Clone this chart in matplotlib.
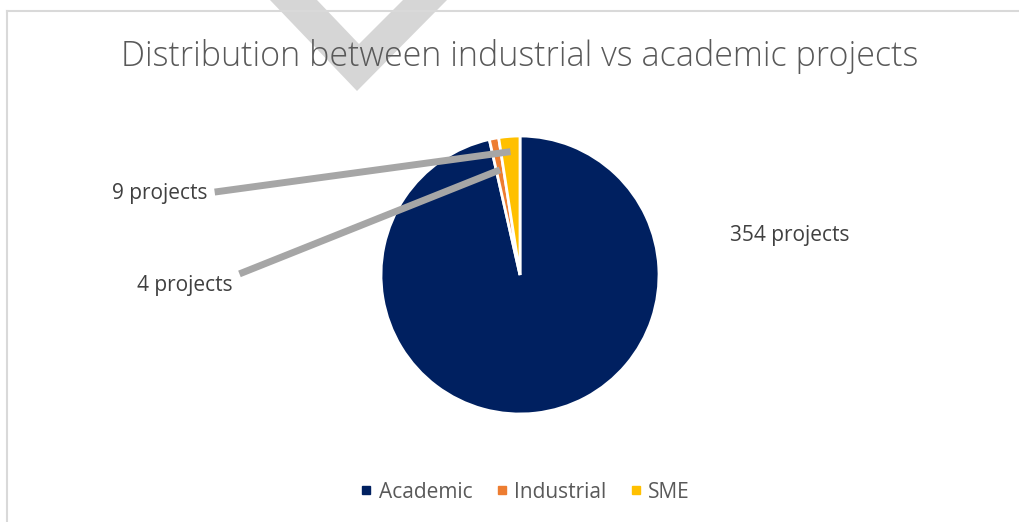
import matplotlib.pyplot as plt
from matplotlib.patches import Polygon
from matplotlib.lines import Line2D
import numpy as np

categories = ["Academic", "Industrial", "SME"]
projects = [354, 4, 9]
colors = ["#002060", "#ED7D31", "#FFC000"]
label_text = [f"{n} projects" for n in projects]

W, H = 1019, 522
plt.rcParams["font.family"] = ["Open Sans", "DejaVu Sans"]
fig = plt.figure(figsize=(W / 100, H / 100), dpi=100)

# chart frame (only top and left edges visible in the crop)
fig.add_artist(Line2D([7 / W, 7 / W], [0, 1 - 11 / H], transform=fig.transFigure,
                      color="#d9d9d9", lw=1.5))
fig.add_artist(Line2D([7 / W, 1], [1 - 11 / H, 1 - 11 / H], transform=fig.transFigure,
                      color="#d9d9d9", lw=1.5))

# watermark chevron
px = [(270, 0), (357, 91), (447, 0), (403, 0), (359, 44), (317, 0)]
fig.add_artist(Polygon([(x / W, 1 - y / H) for x, y in px], closed=True,
                       transform=fig.transFigure, facecolor="#d6d6d6",
                       edgecolor="none", zorder=0))

fig.text(520 / W, 1 - 57 / H, "Distribution between industrial vs academic projects",
         ha="center", va="center", fontsize=24.5, color="#595959", fontweight="light")

cx, cy, r = 520, 275, 139
ax = fig.add_axes([(cx - r) / W, (H - cy - r) / H, 2 * r / W, 2 * r / H])
wedges, _ = ax.pie(projects, colors=colors, startangle=90, counterclock=False,
                   wedgeprops=dict(edgecolor="white", linewidth=2))
ax.set_xlim(-1, 1)
ax.set_ylim(-1, 1)
ax.set_aspect("auto")
ax.axis("off")

# label positions (figure pixels from top-left) and radial anchor on the wedge
label_pos = [(790, 236), (185, 286), (160, 193)]
anchor_r = [None, 0.77, 0.89]
relpos = [None, (1.0, 0.95), (1.0, 0.5)]
for w, txt, (tx, ty), ar, rp in zip(wedges, label_text, label_pos, anchor_r, relpos):
    if ar is None:
        fig.text(tx / W, 1 - ty / H, txt, ha="center", va="center",
                 fontsize=15, color="#404040")
        continue
    mid = np.deg2rad((w.theta1 + w.theta2) / 2)
    ax.annotate(txt, xy=(ar * np.cos(mid), ar * np.sin(mid)), xycoords="data",
                xytext=(tx / W, 1 - ty / H), textcoords="figure fraction",
                ha="center", va="center", fontsize=15, color="#404040",
                arrowprops=dict(arrowstyle="-", color="#a6a6a6", lw=5,
                                shrinkA=3, shrinkB=0, relpos=rp, capstyle="butt"),
                annotation_clip=False)

handles = [plt.Line2D([], [], marker="s", ls="", color=c, markersize=6) for c in colors]
fig.legend(handles, categories, loc="center", bbox_to_anchor=(525 / W, 1 - 492 / H),
           ncol=3, frameon=False, fontsize=15, handlelength=0.6, handletextpad=0.3,
           columnspacing=1.1, labelcolor="#595959")

fig.savefig("out.png", dpi=100)
